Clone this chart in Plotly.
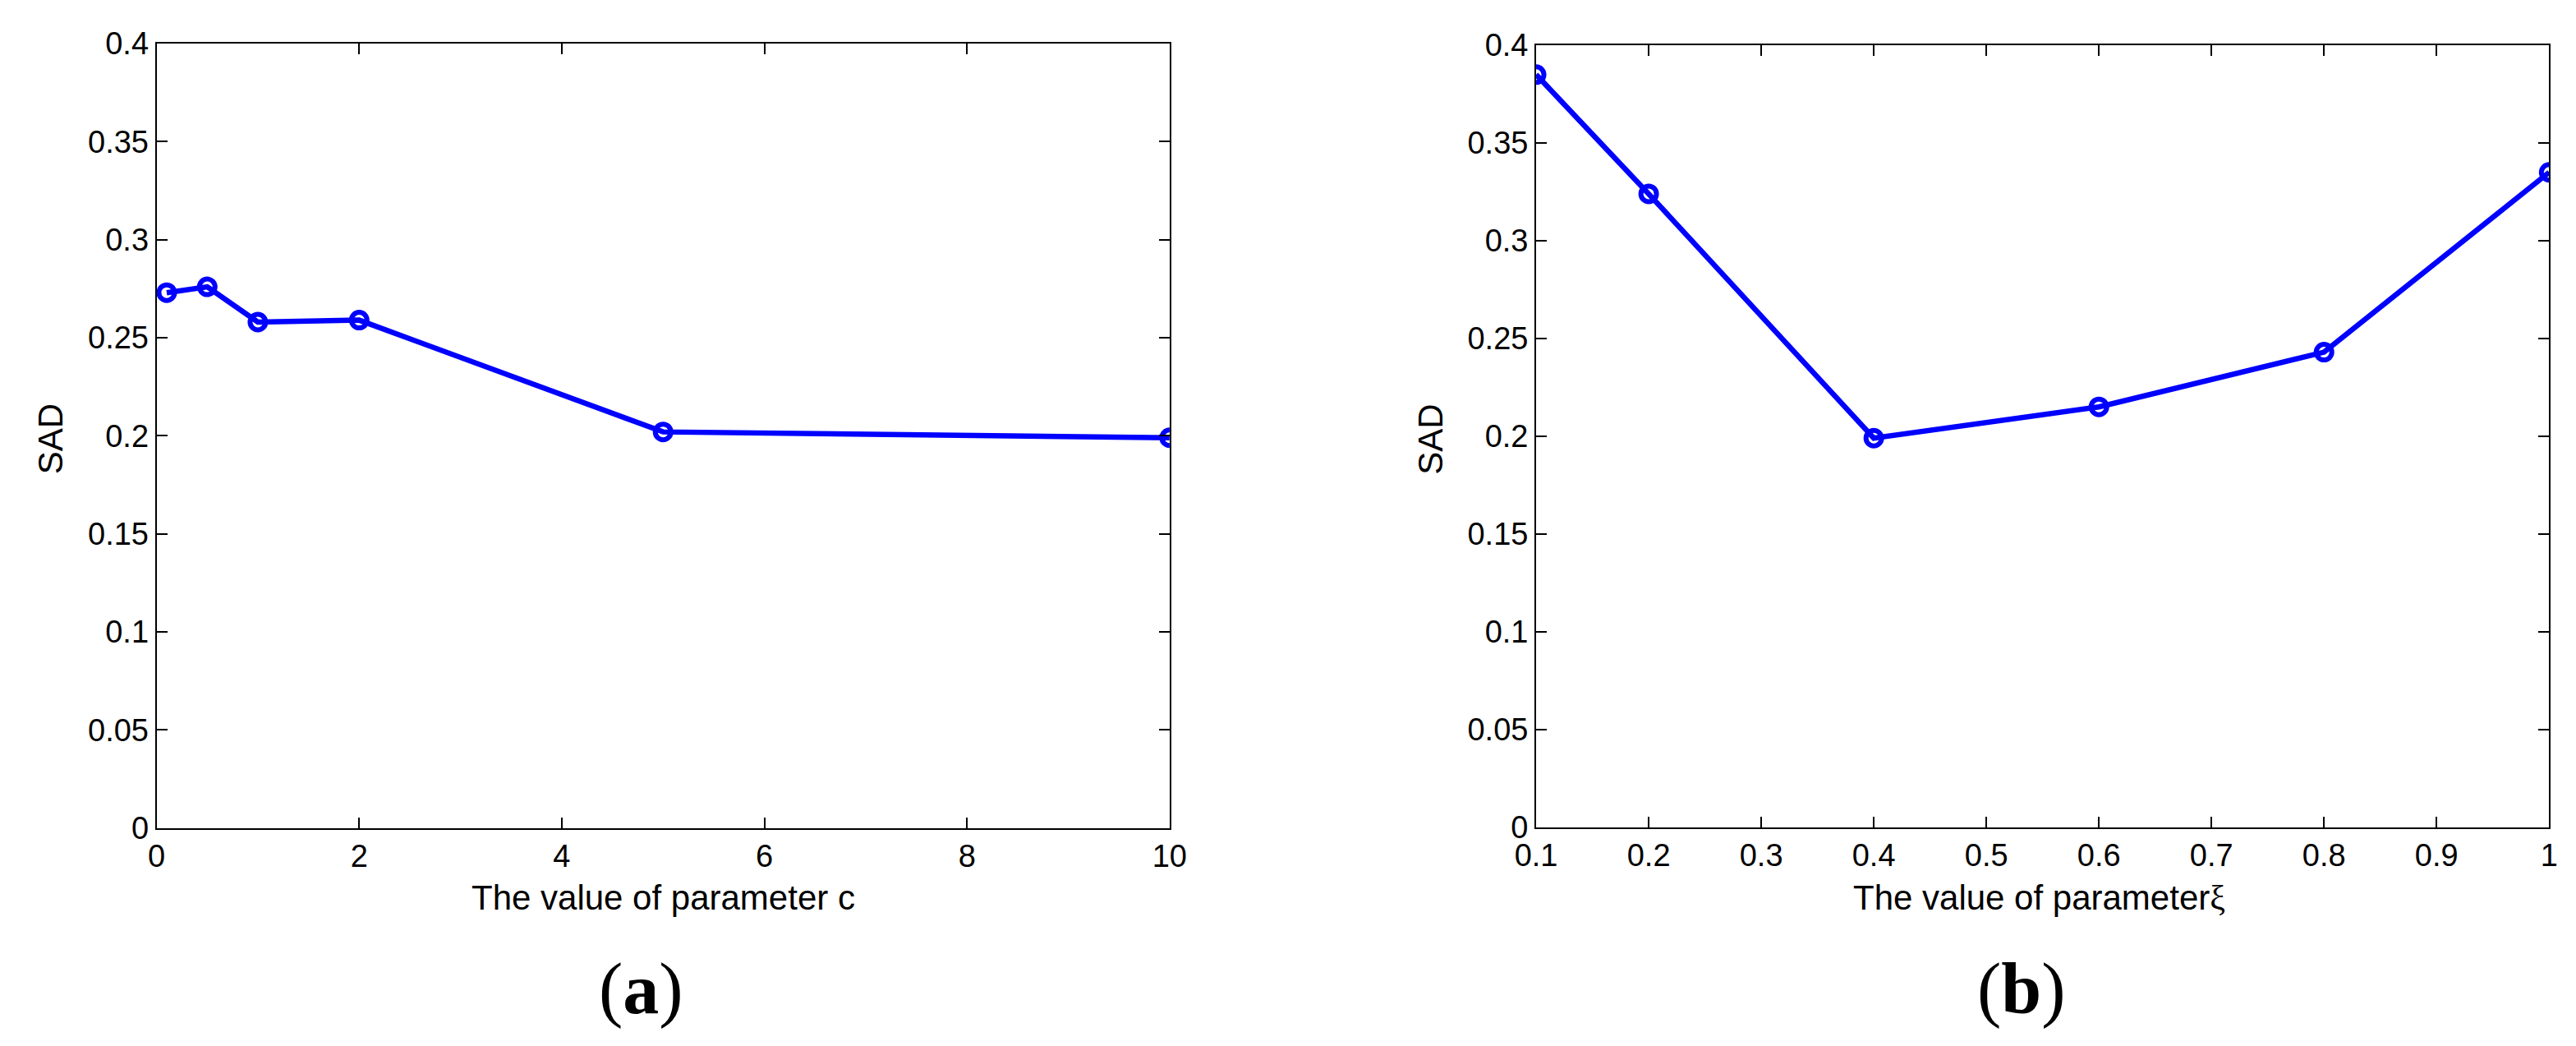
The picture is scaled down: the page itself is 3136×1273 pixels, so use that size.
import plotly.graph_objects as go

# panel (a): SAD vs parameter c
c_values = [0.1, 0.5, 1, 2, 5, 10]
sad_c = [0.273, 0.276, 0.258, 0.259, 0.202, 0.199]

# panel (b): SAD vs parameter xi
xi_values = [0.1, 0.2, 0.4, 0.6, 0.8, 1.0]
sad_xi = [0.385, 0.324, 0.199, 0.215, 0.243, 0.335]

y_ticks = [0, 0.05, 0.1, 0.15, 0.2, 0.25, 0.3, 0.35, 0.4]
y_tick_text = ["0", "0.05", "0.1", "0.15", "0.2", "0.25", "0.3", "0.35", "0.4"]
c_ticks = [0, 2, 4, 6, 8, 10]
xi_ticks = [0.1, 0.2, 0.3, 0.4, 0.5, 0.6, 0.7, 0.8, 0.9, 1.0]
xi_tick_text = ["0.1", "0.2", "0.3", "0.4", "0.5", "0.6", "0.7", "0.8", "0.9", "1"]

W, H = 3136, 1273
BLUE = "#0000ff"
SANS = "Liberation Sans, Arial, sans-serif"
SERIF = "Liberation Serif, Times New Roman, serif"

fig = go.Figure()

line_style = dict(color=BLUE, width=6.5)
marker_style = dict(symbol="circle-open", size=19, color=BLUE, line=dict(color=BLUE, width=6))

fig.add_trace(go.Scatter(x=c_values, y=sad_c, mode="lines+markers",
                         line=line_style, marker=marker_style,
                         xaxis="x", yaxis="y", showlegend=False))
fig.add_trace(go.Scatter(x=xi_values, y=sad_xi, mode="lines+markers",
                         line=line_style, marker=marker_style,
                         xaxis="x2", yaxis="y2", showlegend=False))

axis_common = dict(
    showline=True, linecolor="black", linewidth=2, mirror="ticks",
    ticks="inside", ticklen=13, tickwidth=2, tickcolor="black",
    showgrid=False, zeroline=False,
    tickfont=dict(family=SANS, size=38, color="black"),
)

# pixel -> paper helpers
def px_x(p):
    return p / W

def px_y(p):
    return 1 - p / H

fig.update_layout(
    width=W, height=H,
    margin=dict(l=0, r=0, t=0, b=0),
    paper_bgcolor="white", plot_bgcolor="white",
    xaxis=dict(domain=[px_x(159), px_x(1411)], range=[0, 10],
               tickvals=c_ticks, anchor="y", **axis_common),
    yaxis=dict(domain=[px_y(1012), px_y(25)], range=[0, 0.4],
               tickvals=y_ticks, ticktext=y_tick_text, anchor="x", **axis_common),
    xaxis2=dict(domain=[px_x(1864), px_x(3116)], range=[0.1, 1.0],
                tickvals=xi_ticks, ticktext=xi_tick_text, anchor="y2", **axis_common),
    yaxis2=dict(domain=[px_y(1011), px_y(27)], range=[0, 0.4],
                tickvals=y_ticks, ticktext=y_tick_text, anchor="x2", **axis_common),
)

title_font = dict(family=SANS, size=42, color="black")
label_font = dict(family=SERIF, size=88, color="black")

annotations = [
    dict(text="The value of parameter c", x=px_x(785), y=px_y(1100), font=title_font),
    dict(text="The value of parameter<span style='font-family:Liberation Serif'>\u03be</span>",
         x=px_x(2486), y=px_y(1100), font=title_font),
    dict(text="SAD", x=px_x(28), y=px_y(523), textangle=-90, font=title_font),
    dict(text="SAD", x=px_x(1734), y=px_y(523), textangle=-90, font=title_font),
    dict(text="(<b>a</b>)", x=px_x(758), y=px_y(1215), font=label_font),
    dict(text="(<b>b</b>)", x=px_x(2464), y=px_y(1215), font=label_font),
]
for a in annotations:
    fig.add_annotation(xref="paper", yref="paper", xanchor="center", yanchor="middle",
                       showarrow=False, **a)

fig.write_html("out.html")
